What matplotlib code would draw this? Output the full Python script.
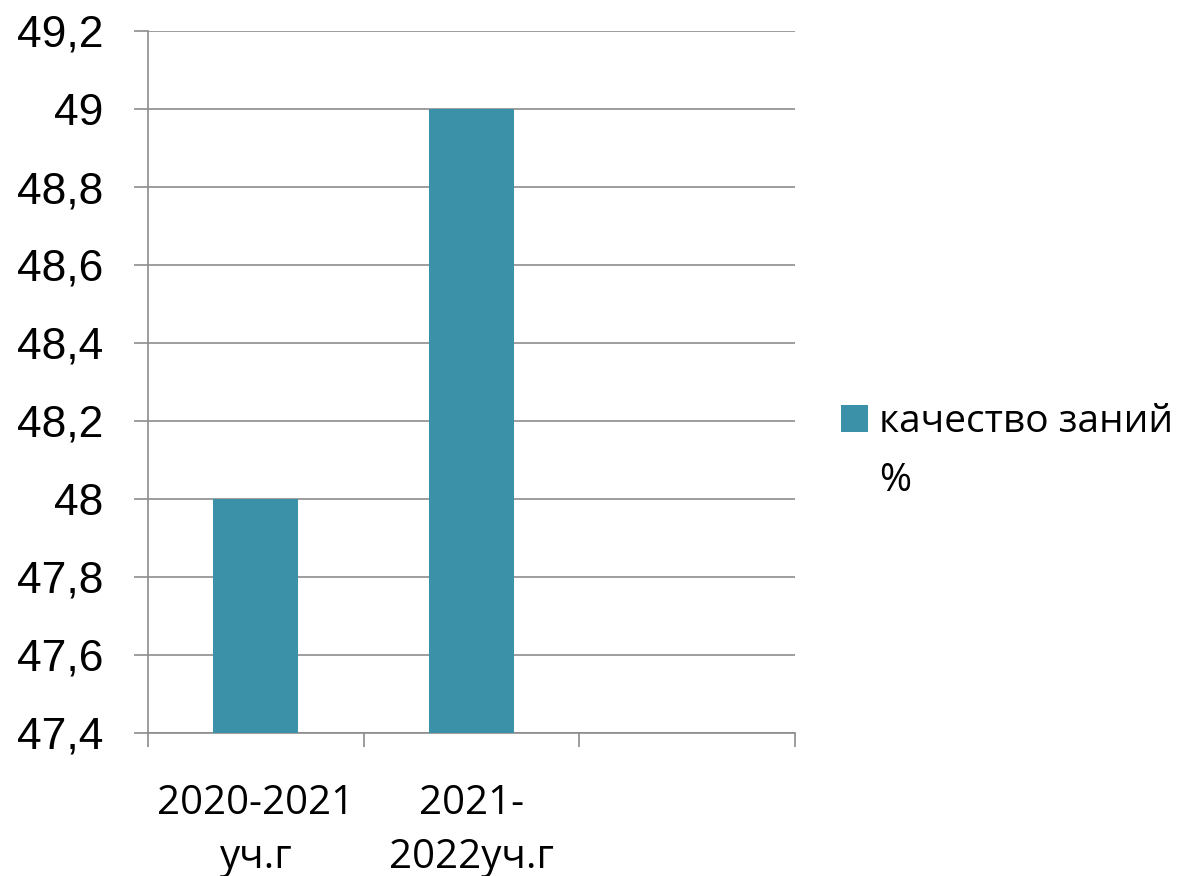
import numpy as np
import matplotlib
matplotlib.use('Agg')
import matplotlib.pyplot as plt
from matplotlib.patches import Patch

categories = ['2020-2021\nуч.г', '2021-\n2022уч.г', '']
values = [48.0, 49.0, np.nan]
series_name = ['качество заний', '%']
y_ticks = [47.4, 47.6, 47.8, 48.0, 48.2, 48.4, 48.6, 48.8, 49.0, 49.2]

bar_color = '#3B91A7'
grid_color = '#8C8C8C'

fig = plt.figure(figsize=(11.97, 8.76), dpi=100)
ax = fig.add_axes([148 / 1197, 1 - 733 / 876, (795 - 148) / 1197, (733 - 31) / 876])

x = np.arange(len(categories))
ax.bar(x, values, width=0.395, color=bar_color, zorder=3)

ax.set_xlim(-0.5, len(categories) - 0.5)
ax.set_ylim(y_ticks[0], y_ticks[-1])

# y axis
ax.set_yticks(y_ticks)
ax.set_yticklabels([('%g' % v).replace('.', ',') for v in y_ticks],
                   fontfamily='Liberation Sans', fontsize=32)
ax.tick_params(axis='y', length=10, width=1.2, color=grid_color, pad=22)
ax.yaxis.grid(True, color=grid_color, linewidth=1.2, zorder=0)

# x axis: labels in the middle, ticks on category borders
ax.set_xticks(x)
ax.set_xticklabels(categories, fontfamily='Open Sans', fontsize=29, linespacing=1.45)
ax.tick_params(axis='x', which='major', length=0, pad=36)
ax.set_xticks(np.arange(len(categories) + 1) - 0.5, minor=True)
ax.tick_params(axis='x', which='minor', length=10, width=1.2, color=grid_color)

for side in ['top', 'right']:
    ax.spines[side].set_visible(False)
for side in ['left', 'bottom']:
    ax.spines[side].set_color(grid_color)
    ax.spines[side].set_linewidth(1.2)

# legend: square beside the first line, the wrapped "%" below it
handles = [Patch(facecolor=bar_color, edgecolor='none'),
           Patch(facecolor='none', edgecolor='none')]
fig.legend(handles, series_name, loc='upper left',
           bbox_to_anchor=(806 / 1197, 1 - 368 / 876), frameon=False,
           prop={'family': 'Open Sans', 'size': 28},
           handlelength=0.7, handleheight=0.7, handletextpad=0.28,
           labelspacing=0.55)

fig.savefig('out.png', dpi=100)
